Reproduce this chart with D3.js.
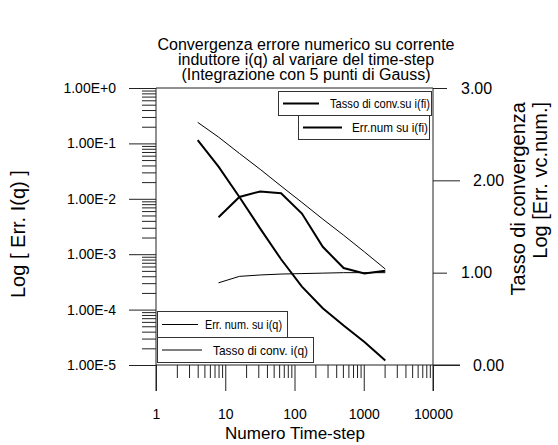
<!DOCTYPE html>
<html>
<head>
<meta charset="utf-8">
<script src="https://cdn.jsdelivr.net/npm/d3@7"></script>
<style>
	body { margin: 0; background: #fff; }
	text { font-family: Arial, "Liberation Sans", sans-serif; fill: #000; }
</style>
</head>
<body>
<div id="chart"></div>
<script>
// numero di time-step (potenze di 2)
var steps = [4, 8, 16, 32, 64, 128, 256, 512, 1024, 2048];
// errore numerico su i(q) e su i(fi) (asse sinistro, log)
var errQ = [0.24, 0.13, 0.066, 0.034, 0.017, 0.0086, 0.0043, 0.0022, 0.0011, 0.00054];
var errFi = [0.115, 0.038, 0.0108, 0.0029, 0.00081, 0.00026, 0.000106, 0.0000515, 0.000026, 0.000012];
// tasso di convergenza (asse destro), calcolato dal secondo punto in poi
var rateSteps = [8, 16, 32, 64, 128, 256, 512, 1024, 2048];
var rateQ = [0.89, 0.96, 0.975, 0.985, 0.99, 0.995, 1.0, 1.0, 1.0];
var rateFi = [1.60, 1.82, 1.88, 1.86, 1.64, 1.28, 1.05, 0.99, 1.02];

var xTicks = [1, 10, 100, 1000, 10000];
var yLeftTicks = [1, 1e-1, 1e-2, 1e-3, 1e-4, 1e-5];
var yRightTicks = [0, 1, 2, 3];
var titleLines = ["Convergenza errore numerico su corrente",
	"induttore i(q) al variare del time-step",
	"(Integrazione con 5 punti di Gauss)"];

var width = 558, height = 445;
var svg = d3.select("#chart").append("svg")
	.attr("width", width)
	.attr("height", height);

var x = d3.scaleLog().domain([1, 10000]).range([156, 433]);
var yL = d3.scaleLog().domain([1e-5, 1]).range([365, 88]);
var yR = d3.scaleLinear().domain([0, 3]).range([365, 88]);

var axisColor = "#222";
var isMajor = function(d) { return Math.abs(Math.log10(d) - Math.round(Math.log10(d))) < 1e-9; };

function styleAxis(size) {
	return function(g) {
		g.select(".domain").remove();
		g.selectAll("line").attr("stroke", axisColor);
		g.selectAll("text").style("font-size", size + "px").attr("fill", "#000");
	};
}

// asse sinistro: tacche minori e maggiori
svg.append("g")
	.attr("transform", "translate(" + x.range()[0] + ",0)")
	.call(d3.axisLeft(yL).tickValues(yL.ticks().filter(function(d) { return !isMajor(d); }))
		.tickSize(14).tickFormat(""))
	.call(styleAxis(14));
svg.append("g")
	.attr("transform", "translate(" + x.range()[0] + ",0)")
	.call(d3.axisLeft(yL).tickValues(yLeftTicks).tickSize(27).tickPadding(13)
		.tickFormat(function(d) { return d3.format(".2e")(d).toUpperCase(); }))
	.call(styleAxis(14));

// asse in basso
svg.append("g")
	.attr("transform", "translate(0," + yL.range()[0] + ")")
	.call(d3.axisBottom(x).tickValues(x.ticks().filter(function(d) { return !isMajor(d); }))
		.tickSize(13).tickFormat(""))
	.call(styleAxis(14));
svg.append("g")
	.attr("transform", "translate(0," + yL.range()[0] + ")")
	.call(d3.axisBottom(x).tickValues(xTicks).tickSize(26).tickPadding(18)
		.tickFormat(d3.format("d")))
	.call(styleAxis(14));

// asse destro
var right = svg.append("g")
	.attr("transform", "translate(" + x.range()[1] + ",0)")
	.call(d3.axisRight(yR).tickValues(yRightTicks).tickSize(14).tickPadding(14)
		.tickFormat(d3.format(".2f")))
	.call(styleAxis(16));
right.selectAll(".tick").filter(function(d) { return d % 2 === 0; })
	.each(function() {
		d3.select(this).select("line").attr("x2", 27);
		d3.select(this).select("text").attr("x", 40);
	});

// cornice
var frame = svg.append("g").attr("stroke", axisColor).attr("fill", "none");
frame.append("line").attr("x1", x.range()[0]).attr("x2", x.range()[0])
	.attr("y1", yL.range()[1]).attr("y2", yL.range()[0] + 26);
frame.append("line").attr("x1", x.range()[1]).attr("x2", x.range()[1])
	.attr("y1", yL.range()[1]).attr("y2", yL.range()[0] + 26);
frame.append("line").attr("x1", x.range()[0]).attr("x2", x.range()[1] + 27)
	.attr("y1", yL.range()[0]).attr("y2", yL.range()[0]);
frame.append("line").attr("x1", x.range()[0]).attr("x2", x.range()[1])
	.attr("y1", yL.range()[1]).attr("y2", yL.range()[1]);

// curve
var lineL = d3.line().x(function(d) { return x(d[0]); }).y(function(d) { return yL(d[1]); });
var lineR = d3.line().x(function(d) { return x(d[0]); }).y(function(d) { return yR(d[1]); });

svg.append("path").datum(d3.zip(steps, errQ))
	.attr("d", lineL).attr("fill", "none").attr("stroke", "#000").attr("stroke-width", 1);
svg.append("path").datum(d3.zip(rateSteps, rateQ))
	.attr("d", lineR).attr("fill", "none").attr("stroke", "#000").attr("stroke-width", 1);
svg.append("path").datum(d3.zip(steps, errFi))
	.attr("d", lineL).attr("fill", "none").attr("stroke", "#000").attr("stroke-width", 2);
svg.append("path").datum(d3.zip(rateSteps, rateFi))
	.attr("d", lineR).attr("fill", "none").attr("stroke", "#000").attr("stroke-width", 2);

// legende
var legends = [
	{label: "Tasso di conv.su i(fi)", x: 278, y: 91, w: 153, h: 24, lx: 5, lw: 36, tx: 52, tl: 100, sw: 2},
	{label: "Err.num su i(fi)", x: 298, y: 115, w: 131, h: 24, lx: 5, lw: 39, tx: 54, tl: 76, sw: 2},
	{label: "Err. num. su i(q)", x: 157, y: 311, w: 130, h: 26, lx: 5, lw: 36, tx: 48, tl: 77, sw: 1},
	{label: "Tasso di conv. i(q)", x: 157, y: 337, w: 156, h: 25, lx: 5, lw: 40, tx: 56, tl: 95, sw: 1}
];
var lg = svg.selectAll("g.legend").data(legends).enter().append("g")
	.attr("class", "legend")
	.attr("transform", function(d) { return "translate(" + d.x + "," + d.y + ")"; });
lg.append("rect")
	.attr("x", 0.5).attr("y", 0.5)
	.attr("width", function(d) { return d.w; })
	.attr("height", function(d) { return d.h; })
	.attr("fill", "#fff").attr("stroke", "#333");
lg.append("line")
	.attr("x1", function(d) { return d.lx; })
	.attr("x2", function(d) { return d.lx + d.lw; })
	.attr("y1", function(d) { return d.h / 2 + 0.5; })
	.attr("y2", function(d) { return d.h / 2 + 0.5; })
	.attr("stroke", "#000")
	.attr("stroke-width", function(d) { return d.sw; });
lg.append("text")
	.attr("x", function(d) { return d.tx; })
	.attr("y", function(d) { return d.h / 2 + 5; })
	.attr("textLength", function(d) { return d.tl; })
	.attr("lengthAdjust", "spacingAndGlyphs")
	.style("font-size", "13px")
	.text(function(d) { return d.label; });

// titolo
svg.append("g").selectAll("text").data(titleLines).enter().append("text")
	.attr("x", 306)
	.attr("y", function(d, i) { return 50 + i * 15; })
	.attr("text-anchor", "middle")
	.style("font-size", "16px")
	.text(function(d) { return d; });

// titoli degli assi
svg.append("text")
	.attr("x", 295).attr("y", 439)
	.attr("text-anchor", "middle")
	.style("font-size", "17px")
	.text("Numero Time-step");
svg.append("text")
	.attr("transform", "translate(25,298) rotate(-90)")
	.attr("text-anchor", "start")
	.style("font-size", "20px")
	.text("Log [ Err. I(q) ]");
svg.append("text")
	.attr("transform", "translate(525,102) rotate(-90)")
	.attr("text-anchor", "end")
	.style("font-size", "20px")
	.text("Tasso di convergenza");
svg.append("text")
	.attr("transform", "translate(547,102) rotate(-90)")
	.attr("text-anchor", "end")
	.style("font-size", "20px")
	.text("Log [Err. vc.num.]");
</script>
</body>
</html>
